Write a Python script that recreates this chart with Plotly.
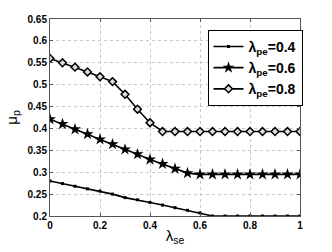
import plotly.graph_objects as go

x = [round(i * 0.05, 2) for i in range(21)]
mu_04 = [0.280, 0.274, 0.268, 0.262, 0.257, 0.250, 0.242, 0.237, 0.231, 0.225, 0.219,
         0.213, 0.207, 0.200, 0.200, 0.200, 0.200, 0.200, 0.200, 0.200, 0.200]
mu_06 = [0.421, 0.410, 0.398, 0.387, 0.375, 0.364, 0.352, 0.341, 0.329, 0.319, 0.308,
         0.298, 0.295, 0.295, 0.295, 0.295, 0.295, 0.295, 0.295, 0.295, 0.295]
mu_08 = [0.560, 0.550, 0.540, 0.529, 0.518, 0.507, 0.478, 0.444, 0.413, 0.393, 0.393,
         0.393, 0.393, 0.393, 0.393, 0.393, 0.393, 0.393, 0.393, 0.393, 0.393]
names = ["λ<sub>pe</sub>=0.4", "λ<sub>pe</sub>=0.6", "λ<sub>pe</sub>=0.8"]
xticks = [0, 0.2, 0.4, 0.6, 0.8, 1]
yticks = [0.2, 0.25, 0.3, 0.35, 0.4, 0.45, 0.5, 0.55, 0.6, 0.65]

fig = go.Figure()
fig.add_trace(go.Scatter(x=x, y=mu_04, mode="lines+markers", name=names[0],
                         line=dict(color="black", width=1.6),
                         marker=dict(symbol="square", size=3, color="black")))
fig.add_trace(go.Scatter(x=x, y=mu_06, mode="lines+markers", name=names[1],
                         line=dict(color="black", width=1.6),
                         marker=dict(symbol="star", size=9, color="black")))
fig.add_trace(go.Scatter(x=x, y=mu_08, mode="lines+markers", name=names[2],
                         line=dict(color="black", width=1.6),
                         marker=dict(symbol="diamond", size=6, color="#ddd",
                                     line=dict(color="black", width=1.5))))

axis_common = dict(showline=True, linecolor="#555", linewidth=1, mirror="ticks",
                   ticks="inside", ticklen=3, tickcolor="#555",
                   showgrid=True, gridcolor="#c8c8c8", griddash="dot", gridwidth=1,
                   zeroline=False, automargin=False,
                   tickfont=dict(family="Liberation Sans", size=10, color="black", weight="bold"))

fig.update_layout(
    width=332, height=252,
    margin=dict(l=50, r=32, t=19, b=36, autoexpand=False),
    paper_bgcolor="white", plot_bgcolor="white",
    showlegend=True,
    legend=dict(x=0.63, y=0.945, xanchor="left", yanchor="top",
                bordercolor="black", borderwidth=1, bgcolor="white",
                font=dict(family="Liberation Sans", size=14, color="black", weight="bold"),
                tracegroupgap=0, itemwidth=30),
    xaxis=dict(range=[0, 1], tickvals=xticks, ticktext=[str(v) for v in xticks],
               title=dict(text="λ<sub>se</sub>", standoff=0,
                          font=dict(family="Liberation Sans", size=15, color="black")),
               **axis_common),
    yaxis=dict(range=[0.2, 0.65], tickvals=yticks, ticktext=[str(v) for v in yticks],
               title=dict(text="μ<sub>p</sub>", standoff=6,
                          font=dict(family="Liberation Sans", size=15, color="black")),
               **axis_common),
)

fig.write_html("out.html", config={"displayModeBar": False},
               post_script="document.body.style.margin='0';document.body.style.overflow='hidden';")
